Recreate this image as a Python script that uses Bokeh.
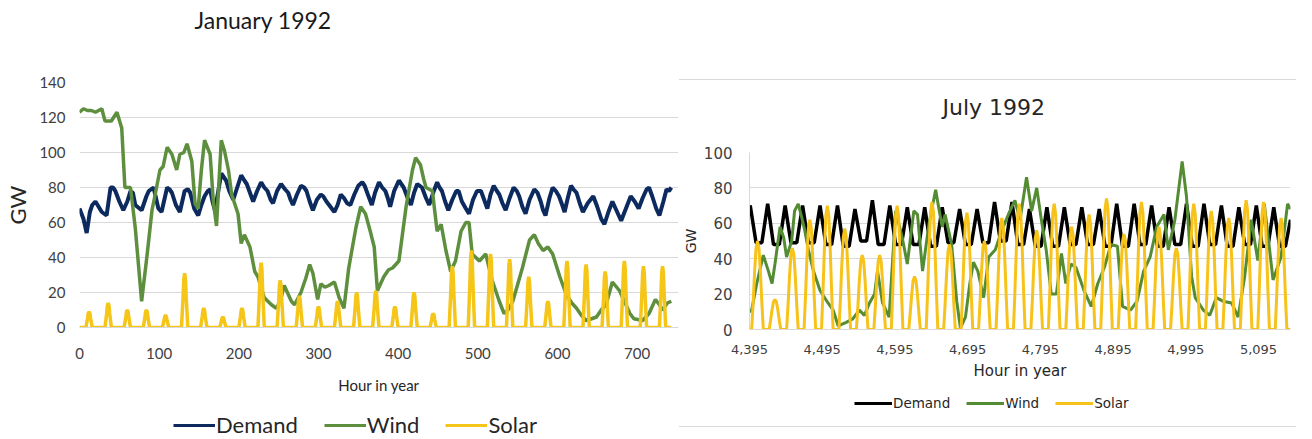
from bokeh.plotting import figure
from bokeh.models import (Range1d, FixedTicker, NumeralTickFormatter, Legend, LegendItem,
                          Spacer, Title)
from bokeh.layouts import row, column
from bokeh.embed import file_html
from bokeh.resources import INLINE

# ---------------- January 1992 ----------------
jan_demand_hour = [0,5,9,13,16,20,24,28,34,39,42,45,50,55,60,64,67,70,78,84,87,90,93,99,103,107,110,113,116,121,126,132,136,139,144,149,153,157,161,164,167,170,175,178,181,184,188,193,198,203,207,210,214,218,223,228,232,236,240,243,248,253,258,262,265,268,273,278,282,285,289,293,298,303,306,310,315,320,324,328,332,336,340,345,350,355,358,362,367,371,376,380,384,387,390,395,401,404,407,412,416,420,424,427,430,435,439,444,449,452,455,459,463,468,473,476,480,485,489,494,499,504,508,512,516,520,524,527,531,535,540,545,549,552,556,560,565,571,575,579,582,585,590,594,598,602,606,609,613,617,620,624,628,632,638,645,650,655,659,664,669,674,680,686,692,697,702,707,712,715,719,724,728,733,737,740,743]
jan_demand_gw = [68,62,54,66,70,72,69,66,64,80,80,78,72,67,72,78,77,70,67,75,78,79,80,68,66,74,80,79,77,70,66,78,79,77,68,64,70,75,78,79,72,67,80,88,86,84,78,73,80,87,84,82,77,72,78,83,80,78,73,71,78,82,79,77,73,70,76,81,80,78,72,67,73,76,75,72,69,66,70,76,74,71,70,76,81,83,81,76,70,77,83,80,78,74,69,78,84,82,80,74,70,77,82,81,80,74,70,77,83,80,78,72,67,73,78,78,72,68,65,73,78,78,73,68,76,81,78,76,71,67,74,80,78,75,69,65,73,79,77,72,67,64,74,80,78,75,70,66,74,81,79,77,71,66,71,75,69,62,59,66,72,67,61,68,75,72,68,74,79,80,75,68,64,72,79,78,80]

jan_wind_hour = [0,5,10,15,20,28,32,40,47,53,57,64,70,78,85,91,95,101,105,110,116,122,126,131,135,141,145,149,153,157,164,168,172,178,182,187,191,199,203,207,214,220,224,232,241,247,252,257,262,266,270,278,284,289,293,299,303,308,313,320,326,332,338,347,353,359,365,370,374,382,388,393,401,410,418,422,428,432,435,443,449,454,460,466,472,479,485,489,493,502,510,518,527,533,538,544,556,565,571,576,582,588,594,603,611,618,624,630,636,643,649,655,661,669,678,686,691,696,707,715,723,728,732,738,743]
jan_wind_gw = [123,125,124,124,123,125,118,118,123,114,80,80,57,15,42,67,76,90,92,103,99,90,99,100,105,95,71,68,90,107,99,72,58,107,101,90,76,65,48,53,46,32,29,17,13,11,15,24,19,15,13,20,28,36,31,16,25,23,24,26,17,11,34,57,69,65,55,46,21,29,33,34,38,69,90,97,93,85,80,78,55,59,44,32,38,55,60,60,42,38,42,27,15,8,10,15,34,50,53,48,44,46,42,29,19,14,11,7,4,5,6,10,13,26,21,13,8,5,4,8,16,13,10,14,15]

jan_solar_peak_gw = [9,14,10,10,7,31,11,6,11,37,27,18,12,15,20,21,12,20,8,35,44,42,39,29,15,38,36,32,38,35,35]

# ---------------- July 1992 ----------------
jul_demand_peak_gw = [70,71,70,70,70,70,68,73,70,69,69,69,68,68,72,72,68,69,69,69,68,71,71,70,69,71,71,70,69,70,69]
jul_demand_trough_gw = [49,48,49,49,48,47,50,48,48,48,47,49,48,49,50,48,47,47,48,48,47,47,48,47,48,47,48,47,48,47,47]
jul_demand_end_gw = 62

jul_wind_hour = [4395,4398,4405,4414,4421,4426,4430,4437,4442,4446,4453,4457,4462,4467,4471,4476,4483,4492,4503,4510,4517,4528,4537,4546,4553,4560,4567,4571,4578,4587,4596,4605,4612,4621,4626,4633,4642,4651,4656,4660,4664,4673,4680,4685,4692,4698,4703,4709,4717,4724,4733,4742,4751,4760,4767,4776,4783,4790,4796,4803,4810,4817,4824,4830,4837,4844,4855,4865,4874,4883,4892,4901,4908,4919,4928,4937,4946,4955,4965,4971,4980,4990,4996,5003,5008,5019,5028,5037,5046,5058,5067,5076,5085,5094,5103,5115,5126,5135,5139]
jul_wind_gw = [10,11,26,42,33,26,37,58,52,41,50,67,71,63,56,45,33,22,15,11,2,4,6,11,8,15,20,33,15,7,67,52,37,67,65,33,60,79,67,58,65,48,16,1,7,26,38,33,18,41,45,56,65,73,62,86,67,80,63,45,20,20,43,26,37,35,22,13,26,35,48,47,13,11,16,33,41,58,65,45,62,95,75,30,18,11,8,18,16,15,7,30,62,39,71,28,41,71,68]

jul_solar_peak_gw = [50,17,46,62,70,57,42,42,70,30,72,48,66,50,63,71,56,71,58,65,74,54,72,58,46,71,67,63,73,72,63]

series_names = ["Demand", "Wind", "Solar"]

# ---------------- build polylines from the read values ----------------
JAN_SPIKE = [(-4, 0.0), (-2, 0.55), (-1, 0.9), (0, 1.0), (1, 0.9), (2, 0.55), (4, 0.0)]
JUL_BELL = [(-8, 0.0), (-6, 0.3), (-4, 0.65), (-2, 0.92), (0, 1.0), (2, 0.92), (4, 0.65), (6, 0.3), (8, 0.0)]

def solar_xy(peaks, first_peak, start, end, shape):
    xs, ys = [start], [0]
    for d, v in enumerate(peaks):
        p = first_peak + 24 * d
        for dx, f in shape:
            xs.append(p + dx)
            ys.append(v * f)
    xs.append(end)
    ys.append(0)
    return xs, ys

jan_solar_x, jan_solar_y = solar_xy(jan_solar_peak_gw, 12, 0, 743, JAN_SPIKE)
jul_solar_x, jul_solar_y = solar_xy(jul_solar_peak_gw, 4406, 4395, 5139, JUL_BELL)

jul_dem_x, jul_dem_y = [4395], [jul_demand_peak_gw[0] - 1]
for d, (pk, tr) in enumerate(zip(jul_demand_peak_gw, jul_demand_trough_gw)):
    p = 4396 + 24 * d
    jul_dem_x += [p, p + 8, p + 16]
    jul_dem_y += [pk, tr, tr]
jul_dem_x.append(5139)
jul_dem_y.append(jul_demand_end_gw)

GRID = "#d9d9d9"
TXT = "#404040"
JAN_STYLE = [("#0c2a5e", 4), ("#5e8f3e", 3.5), ("#f5c518", 3.5)]
JUL_STYLE = [("#000000", 3.5), ("#548c34", 3), ("#f7c21a", 3)]


def style_axis(ax, font, tick_size, label_size, standoff, label_standoff, line_color):
    ax.major_tick_line_color = None
    ax.minor_tick_line_color = None
    ax.major_tick_out = 0
    ax.minor_tick_out = 0
    ax.major_label_text_font = font
    ax.major_label_text_font_size = tick_size
    ax.major_label_text_color = TXT
    ax.axis_label_text_font = font
    ax.axis_label_text_font_size = label_size
    ax.axis_label_text_font_style = "normal"
    ax.axis_label_text_color = "#262626"
    ax.major_label_standoff = standoff
    ax.axis_label_standoff = label_standoff
    ax.axis_line_color = line_color


def legend_figure(width, height, styles, loc, font, size, glyph_w, spacing, label_h, legend_w):
    lf = figure(width=width, height=height, x_range=Range1d(0, 1), y_range=Range1d(0, 1),
                x_axis_type=None, y_axis_type=None, output_backend="svg",
                toolbar_location=None, min_border=0, outline_line_color=None)
    lf.xgrid.visible = False
    lf.ygrid.visible = False
    items = []
    for name, (c, w) in zip(series_names, styles):
        # keyed renderer, placed outside the visible range: only its legend swatch shows
        rr = lf.line([5, 6], [5, 6], line_color=c, line_width=legend_w)
        items.append(LegendItem(label=name, renderers=[rr]))
    lg = Legend(items=items, orientation="horizontal", location=loc,
                glyph_width=glyph_w, glyph_height=label_h, label_height=label_h,
                label_standoff=1, spacing=spacing, padding=0, margin=0,
                border_line_alpha=0, background_fill_alpha=0,
                label_text_font=font, label_text_font_size=size, label_text_color="#262626")
    lf.add_layout(lg, "center")
    return lf


# ---------------- left figure ----------------
FL = "Lato"
left = figure(width=679, height=400, x_range=Range1d(0, 752), y_range=Range1d(0, 140),
              output_backend="svg", toolbar_location=None, title=None,
              min_border_left=79, min_border_right=1, min_border_top=82, min_border_bottom=73)
# blank title = vertical room between the frame and the real title
left.add_layout(Title(text=" ", text_font_size="10px", standoff=36), "above")
left.add_layout(Title(text="January 1992", align="left", offset=115, standoff=0,
                      text_font=FL, text_font_size="23px", text_font_style="normal",
                      text_color="#1a1a1a"), "above")

left.line(jan_demand_hour, jan_demand_gw, line_color=JAN_STYLE[0][0], line_width=JAN_STYLE[0][1])
left.line(jan_wind_hour, jan_wind_gw, line_color=JAN_STYLE[1][0], line_width=JAN_STYLE[1][1])
left.line(jan_solar_x, jan_solar_y, line_color=JAN_STYLE[2][0], line_width=JAN_STYLE[2][1])

xl = left.xaxis[0]
yl = left.yaxis[0]
xl.ticker = FixedTicker(ticks=[0, 100, 200, 300, 400, 500, 600, 700])
yl.ticker = FixedTicker(ticks=[0, 20, 40, 60, 80, 100, 120, 140])
style_axis(xl, FL, "15px", "15px", 20, 14, GRID)
style_axis(yl, FL, "15px", "22px", 14, 5, None)
xl.axis_label = "Hour in year"
yl.axis_label = "GW"
left.xgrid.grid_line_color = None
left.ygrid.grid_line_color = GRID
left.ygrid.ticker = FixedTicker(ticks=[20, 40, 60, 80, 100, 120, 140])
left.outline_line_color = None

left_leg = legend_figure(679, 38, JAN_STYLE, (94, 0), FL, "22px", 42, 26, 20, 3)

# ---------------- right figure ----------------
FR = "DejaVu Sans"
right = figure(width=617, height=310, x_range=Range1d(4395, 5139), y_range=Range1d(0, 100),
               output_backend="svg", toolbar_location=None, title=None,
               min_border_left=66, min_border_right=6, min_border_top=72, min_border_bottom=61)
right.add_layout(Title(text=" ", text_font_size="10px", standoff=20), "above")
right.add_layout(Title(text="July 1992", align="left", offset=193, standoff=0,
                       text_font=FR, text_font_size="22px", text_font_style="normal",
                       text_color="#262626"), "above")

right.line(jul_dem_x, jul_dem_y, line_color=JUL_STYLE[0][0], line_width=JUL_STYLE[0][1])
right.line(jul_wind_hour, jul_wind_gw, line_color=JUL_STYLE[1][0], line_width=JUL_STYLE[1][1])
right.line(jul_solar_x, jul_solar_y, line_color=JUL_STYLE[2][0], line_width=JUL_STYLE[2][1])

xr = right.xaxis[0]
yr = right.yaxis[0]
xr.ticker = FixedTicker(ticks=[4395, 4495, 4595, 4695, 4795, 4895, 4995, 5095])
xr.formatter = NumeralTickFormatter(format="0,0")
yr.ticker = FixedTicker(ticks=[0, 20, 40, 60, 80, 100])
style_axis(xr, FR, "13px", "15px", 15, 5, GRID)
style_axis(yr, FR, "15px", "14px", 17, 2, GRID)
xr.axis_label = "Hour in year"
yr.axis_label = "GW"
right.xgrid.grid_line_color = None
right.ygrid.grid_line_color = GRID
right.ygrid.ticker = FixedTicker(ticks=[20, 40, 60, 80, 100])
right.outline_line_color = None

right_leg = legend_figure(617, 36, JUL_STYLE, (105, 13), FR, "13.5px", 38, 16, 20, 3)

top_line = Spacer(width=617, height=1, styles={"background-color": GRID})
bot_line = Spacer(width=617, height=1, styles={"background-color": GRID})
left_col = column(left, left_leg, spacing=0)
right_col = column(Spacer(width=617, height=79), top_line, right, right_leg, bot_line, spacing=0)

p = row(left_col, right_col, spacing=0)

open("out.html", "w").write(file_html(p, INLINE))
